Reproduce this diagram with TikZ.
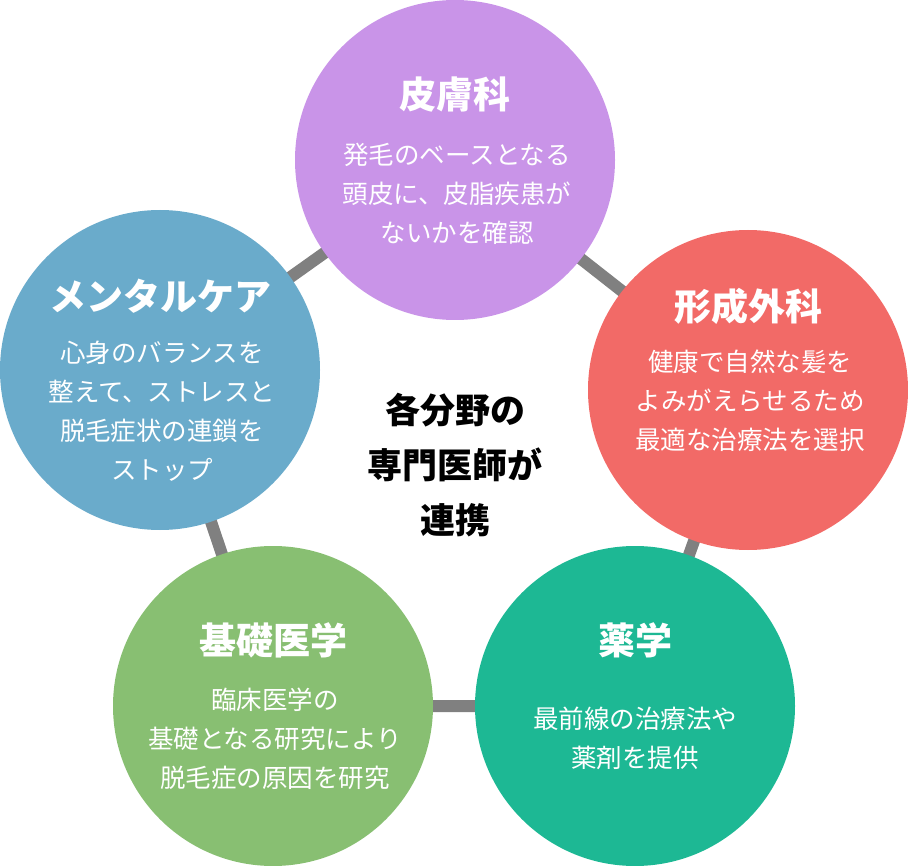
\documentclass[tikz,border=0pt]{standalone}
\usepackage{fontspec}
\newfontfamily\jp{Noto Sans CJK JP}
\definecolor{cpur}{HTML}{C994E8}
\definecolor{cred}{HTML}{F26A67}
\definecolor{cgrn}{HTML}{1DB894}
\definecolor{clgr}{HTML}{88BF72}
\definecolor{cblu}{HTML}{6AABCB}
\definecolor{cgray}{HTML}{808080}
\tikzset{
  disc/.style={circle,minimum size=320pt,inner sep=0pt},
  ttl/.style={text=white,font=\jp\bfseries\fontsize{37}{42}\selectfont},
  body/.style={text=white,align=center,font=\jp\fontsize{25.5}{39}\selectfont},
  link/.style={draw=cgray,line width=12pt}
}
\begin{document}
\begin{tikzpicture}[x=1pt,y=-1pt]
\useasboundingbox (0,0) rectangle (908,866);
\coordinate (p1) at (455,160);
\coordinate (p2) at (748,390);
\coordinate (p3) at (635,706);
\coordinate (p4) at (273,706);
\coordinate (p5) at (160,370);
\draw[link] (p1)--(p2)--(p3)--(p4)--(p5)--cycle;
\node[disc,fill=cpur] (c1) at (p1) {};
\node[disc,fill=cred] (c2) at (p2) {};
\node[disc,fill=cgrn] (c3) at (p3) {};
\node[disc,fill=clgr] (c4) at (p4) {};
\node[disc,fill=cblu] (c5) at (p5) {};
\node[ttl] (t1) at (455,95) {皮膚科};
\node[body] (b1) at (457,194) {発毛のベースとなる\\頭皮に、皮脂疾患が\\ないかを確認};
\node[ttl] (t2) at (748,306) {形成外科};
\node[body] (b2) at (750,401) {健康で自然な髪を\\よみがえらせるため\\最適な治療法を選択};
\node[ttl] (t3) at (635,640) {薬学};
\node[body] (b3) at (635,738) {最前線の治療法や\\薬剤を提供};
\node[ttl] (t4) at (273,640) {基礎医学};
\node[body] (b4) at (275,739) {臨床医学の\\基礎となる研究により\\脱毛症の原因を研究};
\node[ttl] (t5) at (160,296) {メンタルケア};
\node[body] (b5) at (162,411) {心身のバランスを\\整えて、ストレスと\\脱毛症状の連鎖を\\ストップ};
\node[align=center,font=\jp\bfseries\fontsize{35}{55}\selectfont] (ctr) at (455,465) {各分野の\\専門医師が\\連携};
\end{tikzpicture}
\end{document}
